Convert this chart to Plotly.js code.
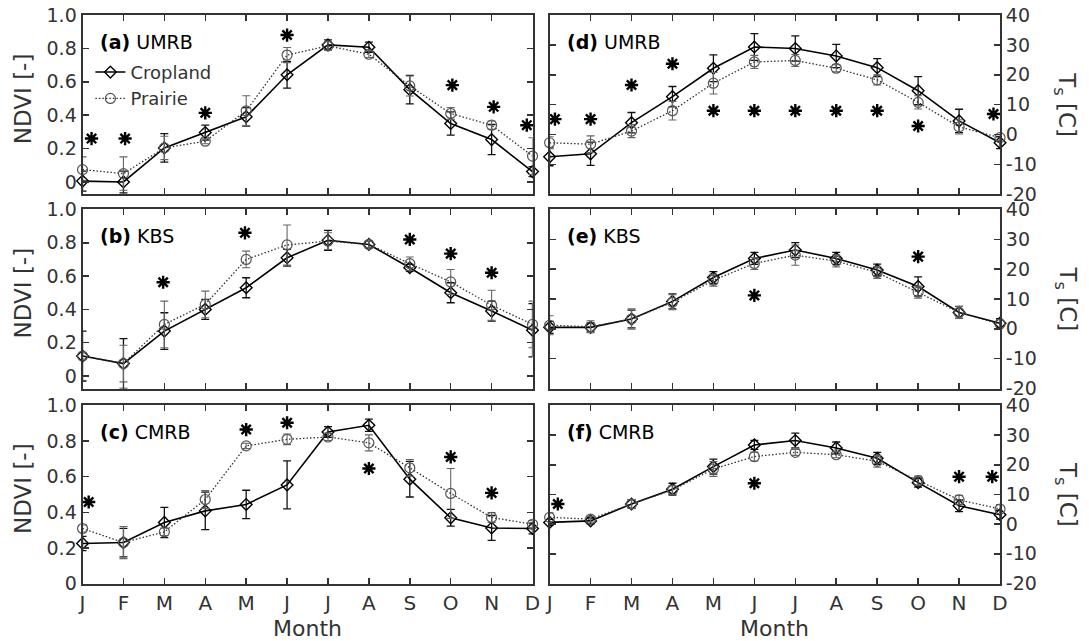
<!DOCTYPE html>
<html>
<head>
<meta charset="utf-8">
<script src="https://cdn.plot.ly/plotly-3.0.1.min.js"></script>
<style>body{margin:0;background:#fff}#chart{width:1089px;height:641px}</style>
</head>
<body>
<div id="chart"></div>
<script>
// ---------- data ----------
const months = [1,2,3,4,5,6,7,8,9,10,11,12];
const monthLabels = ['J','F','M','A','M','J','J','A','S','O','N','D'];
const ndviTicks = [0,0.2,0.4,0.6,0.8,1.0];
const ndviTickLabels = ['0','0.2','0.4','0.6','0.8','1.0'];
const tsTicks = [-20,-10,0,10,20,30,40];
const tsTickLabels = ['-20','-10','0','10','20','30','40'];

// (a) UMRB NDVI
const ndviUMRBCrop = [0.005,0.0,0.204,0.296,0.39,0.642,0.821,0.807,0.553,0.35,0.254,0.062];
const ndviUMRBCropErr = [0.06,0.065,0.085,0.045,0.055,0.08,0.03,0.03,0.085,0.07,0.09,0.03];
const ndviUMRBPrairie = [0.074,0.05,0.204,0.244,0.426,0.76,0.815,0.765,0.575,0.41,0.34,0.155];
const ndviUMRBPrairieErr = [0.076,0.1,0.07,0.015,0.09,0.045,0.025,0.02,0.06,0.035,0.025,0.11];
const ndviUMRBStarX = [1.22,2.04,4,6,10.04,11.05,11.86];
const ndviUMRBStarY = [0.26,0.26,0.414,0.88,0.58,0.45,0.34];

// (b) KBS NDVI
const ndviKBSCrop = [0.12,0.075,0.27,0.40,0.53,0.71,0.815,0.79,0.65,0.50,0.39,0.275];
const ndviKBSCropErr = [0.15,0.15,0.11,0.06,0.06,0.05,0.06,0.02,0.02,0.06,0.06,0.16];
const ndviKBSPrairie = [0.12,0.075,0.31,0.43,0.70,0.787,0.81,0.79,0.675,0.565,0.425,0.31];
const ndviKBSPrairieErr = [0.02,0.11,0.14,0.08,0.05,0.12,0.05,0.02,0.04,0.075,0.09,0.14];
const ndviKBSStarX = [2.97,4.97,9,10,11];
const ndviKBSStarY = [0.563,0.86,0.82,0.735,0.62];

// (c) CMRB NDVI
const ndviCMRBCrop = [0.225,0.23,0.343,0.408,0.444,0.554,0.851,0.889,0.586,0.369,0.312,0.309];
const ndviCMRBCropErr = [0.04,0.08,0.085,0.105,0.08,0.135,0.03,0.034,0.1,0.047,0.07,0.03];
const ndviCMRBPrairie = [0.309,0.23,0.29,0.472,0.773,0.81,0.823,0.79,0.65,0.506,0.371,0.333];
const ndviCMRBPrairieErr = [0.02,0.09,0.02,0.05,0.015,0.03,0.02,0.045,0.047,0.14,0.028,0.02];
const ndviCMRBStarX = [1.15,5,6,8,10,11];
const ndviCMRBStarY = [0.458,0.865,0.903,0.646,0.711,0.509];

// (d) UMRB Ts
const tsUMRBCrop = [-7.4,-6.4,4.0,12.7,22.2,29.3,28.8,26.3,22.4,14.7,4.6,-2.7];
const tsUMRBCropErr = [3,3.9,3.4,3.4,4.5,4.5,4.2,3.9,3.0,4.7,3.9,2];
const tsUMRBPrairie = [-2.7,-3.2,1.2,8.0,17.2,24.3,24.8,22.2,18.3,10.8,2.6,-1.0];
const tsUMRBPrairieErr = [2,2.8,2.2,3.1,3.6,2.2,2.0,1.2,1.7,2.2,2.4,1];
const tsUMRBStarX = [1.13,2,3,4,5,6,7,8,9,10,11.84];
const tsUMRBStarY = [5.2,5.2,16.6,23.7,8,8,8,8,8,2.9,6.9];

// (e) KBS Ts
const tsKBSCrop = [0.5,0.5,3.3,9.2,17.2,23.6,26.4,23.6,19.7,14.2,5.5,1.9];
const tsKBSCropErr = [2,1.5,3,2.5,2,2,2.5,2,2,3.2,2,1.5];
const tsKBSPrairie = [1.2,0.7,3.3,8.9,16.3,21.9,24.7,22.7,18.9,12.3,5.5,1.6];
const tsKBSPrairieErr = [3.2,2,3.4,2.5,2,2,3.4,2,2,2,2,1.5];
const tsKBSStarX = [6,10];
const tsKBSStarY = [11.2,24.2];

// (f) CMRB Ts
const tsCMRBCrop = [0.6,1.1,6.8,11.8,19.4,26.7,28.2,25.7,22.2,14.0,6.2,3.2];
const tsCMRBCropErr = [1,1,1.5,2,2.5,1.5,2.5,2,2,1.5,2,1.5];
const tsCMRBPrairie = [2.3,1.7,6.8,11.5,18.6,22.8,24.2,23.4,21.2,14.7,8.2,5.1];
const tsCMRBPrairieErr = [1.5,1,1.5,1.5,2.5,1.5,1,1,2,1.5,1.5,1.5];
const tsCMRBStarX = [1.2,6,11,11.81];
const tsCMRBStarY = [6.8,13.8,16.0,16.0];

const panelLabels = ['<b>(a)</b> UMRB','<b>(b)</b> KBS','<b>(c)</b> CMRB','<b>(d)</b> UMRB','<b>(e)</b> KBS','<b>(f)</b> CMRB'];

// ---------- build ----------
const panels = [
  [ndviUMRBCrop,ndviUMRBCropErr,ndviUMRBPrairie,ndviUMRBPrairieErr,ndviUMRBStarX,ndviUMRBStarY],
  [ndviKBSCrop,ndviKBSCropErr,ndviKBSPrairie,ndviKBSPrairieErr,ndviKBSStarX,ndviKBSStarY],
  [ndviCMRBCrop,ndviCMRBCropErr,ndviCMRBPrairie,ndviCMRBPrairieErr,ndviCMRBStarX,ndviCMRBStarY],
  [tsUMRBCrop,tsUMRBCropErr,tsUMRBPrairie,tsUMRBPrairieErr,tsUMRBStarX,tsUMRBStarY],
  [tsKBSCrop,tsKBSCropErr,tsKBSPrairie,tsKBSPrairieErr,tsKBSStarX,tsKBSStarY],
  [tsCMRBCrop,tsCMRBCropErr,tsCMRBPrairie,tsCMRBPrairieErr,tsCMRBStarX,tsCMRBStarY]
];

const FONT = 'DejaVu Sans';
const AX = '#333333';
const xDomL = [0.0758, 0.489], xDomR = [0.5047, 0.9183];
const yDoms = [[0.6966, 0.9766], [0.3939, 0.6732], [0.0897, 0.3674]];

const traces = [];
const layout = {
  width: 1089, height: 641,
  margin: {l:0, r:0, t:0, b:0},
  paper_bgcolor: 'white', plot_bgcolor: 'white',
  font: {family: FONT, color: AX},
  showlegend: true,
  legend: {x: 0.083, y: 0.916, xanchor: 'left', yanchor: 'top', bgcolor: 'rgba(0,0,0,0)',
           font: {size: 18, color: AX, family: FONT}, tracegroupgap: 0},
  annotations: []
};

panels.forEach((p, i) => {
  const n = i + 1;
  const sfx = n === 1 ? '' : String(n);
  const xa = 'x' + sfx, ya = 'y' + sfx;
  const right = i >= 3;
  const row = i % 3;
  const [crop, cropErr, pr, prErr, sx, sy] = p;

  traces.push({
    x: months, y: crop, xaxis: xa, yaxis: ya, type: 'scatter', mode: 'lines+markers',
    name: 'Cropland', showlegend: i === 0, cliponaxis: false,
    line: {color: '#000', width: 1.6},
    marker: {symbol: 'diamond-open', size: 9, color: '#000', line: {width: 1.4, color: '#000'}},
    error_y: {type: 'data', array: cropErr, visible: true, color: '#111', thickness: 1.3, width: 4}
  });
  traces.push({
    x: months, y: pr, xaxis: xa, yaxis: ya, type: 'scatter', mode: 'lines+markers',
    name: 'Prairie', showlegend: i === 0, cliponaxis: false,
    line: {color: '#333', width: 1.3, dash: '1.5px,2px'},
    marker: {symbol: 'circle-open', size: 10, color: '#555', line: {width: 1.2, color: '#555'}},
    error_y: {type: 'data', array: prErr, visible: true, color: '#666', thickness: 1.1, width: 4}
  });
  traces.push({
    x: sx, y: sy, xaxis: xa, yaxis: ya, type: 'scatter', mode: 'markers',
    showlegend: false, cliponaxis: false, hoverinfo: 'skip',
    marker: {symbol: 'asterisk-open', size: 11, color: '#000', line: {width: 2.4, color: '#000'}}
  });

  layout['xaxis' + sfx] = {
    domain: right ? xDomR : xDomL, anchor: ya, range: [1, 12],
    tickmode: 'array', tickvals: months, ticktext: monthLabels,
    showticklabels: row === 2, ticks: 'inside', ticklen: 6, tickwidth: 1.5, tickcolor: AX,
    showline: true, linecolor: AX, linewidth: 2, mirror: 'ticks',
    showgrid: false, zeroline: false, tickfont: {size: 20, color: AX, family: FONT}
  };
  layout['yaxis' + sfx] = {
    domain: yDoms[row], anchor: xa, side: right ? 'right' : 'left',
    range: right ? [-20, 40] : (row === 2 ? [0, 1] : [-0.075, 1]),
    tickmode: 'array', tickvals: right ? tsTicks : ndviTicks, ticktext: right ? tsTickLabels : ndviTickLabels,
    ticks: 'inside', ticklen: 6, tickwidth: 1.5, tickcolor: AX,
    showline: true, linecolor: AX, linewidth: 2, mirror: 'ticks',
    showgrid: false, zeroline: false, tickfont: {size: 19, color: AX, family: FONT}
  };

  layout.annotations.push({
    xref: xa + ' domain', yref: ya + ' domain', x: 0.035, y: 0.85,
    xanchor: 'left', yanchor: 'middle', showarrow: false,
    text: panelLabels[i], font: {size: 19, color: '#000', family: FONT}
  });

  const yc = (yDoms[row][0] + yDoms[row][1]) / 2;
  if (right) {
    layout.annotations.push({
      xref: 'paper', yref: 'paper', x: 0.9785, y: yc, xanchor: 'center', yanchor: 'middle',
      showarrow: false, textangle: 90, text: 'T<sub>s</sub> [C]',
      font: {size: 23, color: AX, family: FONT}
    });
  } else {
    layout.annotations.push({
      xref: 'paper', yref: 'paper', x: 0.021, y: yc + 0.01, xanchor: 'center', yanchor: 'middle',
      showarrow: false, textangle: -90, text: 'NDVI [-]',
      font: {size: 23, color: AX, family: FONT}
    });
  }
  if (row === 2) {
    const xd = right ? xDomR : xDomL;
    layout.annotations.push({
      xref: 'paper', yref: 'paper', x: (xd[0] + xd[1]) / 2, y: 0.02, xanchor: 'center', yanchor: 'middle',
      showarrow: false, text: 'Month', font: {size: 22, color: AX, family: FONT}
    });
  }
});

Plotly.newPlot('chart', traces, layout, {staticPlot: true, displayModeBar: false});
</script>
</body>
</html>
